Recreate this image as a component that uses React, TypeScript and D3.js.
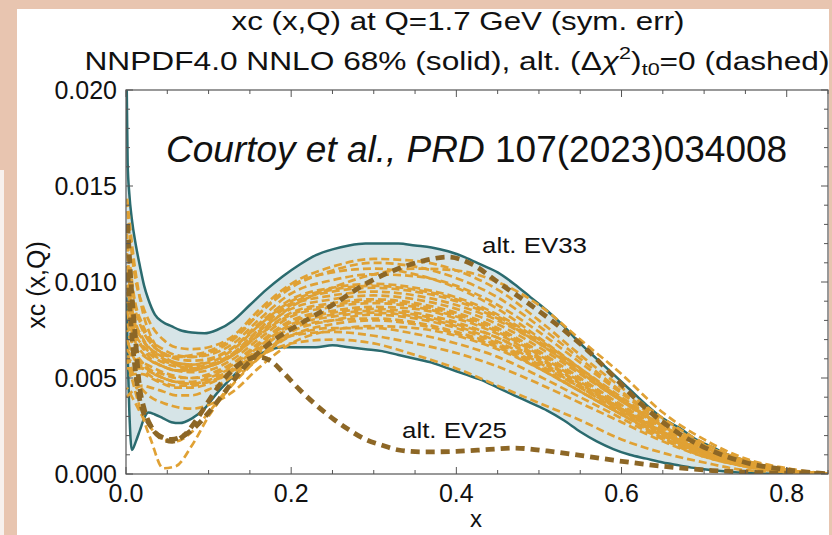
import React from 'react';
import * as d3 from 'd3';

const W = 832;
const H = 535;

// ---------- tick values / labels ----------
const xTickValues = [0, 0.2, 0.4, 0.6, 0.8];
const xTickLabels = ['0.0', '0.2', '0.4', '0.6', '0.8'];
const yTickValues = [0, 0.005, 0.01, 0.015, 0.02];
const yTickLabels = ['0.000', '0.005', '0.010', '0.015', '0.020'];

// ---------- 68% band (solid teal) ----------
const bandX = [0.0005, 0.002, 0.004, 0.007, 0.012, 0.017, 0.022, 0.027, 0.035, 0.045, 0.055, 0.065, 0.08, 0.095, 0.11, 0.13, 0.15, 0.17, 0.19, 0.21, 0.23, 0.25, 0.27, 0.29, 0.31, 0.33, 0.35, 0.37, 0.39, 0.41, 0.43, 0.45, 0.47, 0.49, 0.51, 0.53, 0.55, 0.57, 0.59, 0.61, 0.63, 0.65, 0.67, 0.69, 0.71, 0.73, 0.75, 0.77, 0.8, 0.83, 0.85];
const bandUpper = [215e-4, 162e-4, 146e-4, 133e-4, 119e-4, 108e-4, 98e-4, 91e-4, 83e-4, 79e-4, 77e-4, 75e-4, 73.7e-4, 73.3e-4, 75e-4, 80e-4, 88e-4, 96e-4, 103e-4, 109e-4, 114e-4, 117e-4, 119e-4, 120e-4, 120e-4, 120e-4, 119e-4, 118e-4, 116e-4, 113e-4, 109e-4, 105e-4, 99e-4, 92e-4, 85e-4, 77e-4, 68e-4, 60e-4, 52e-4, 44e-4, 36e-4, 29e-4, 24e-4, 18e-4, 14e-4, 10e-4, 7e-4, 4.5e-4, 2e-4, 0.6e-4, 0];
const bandLower = [92e-4, 62e-4, 33e-4, 12.5e-4, 17e-4, 23e-4, 29e-4, 32e-4, 31e-4, 29e-4, 27e-4, 26.5e-4, 29e-4, 34e-4, 42e-4, 51e-4, 59e-4, 64e-4, 66e-4, 66e-4, 66e-4, 67e-4, 66e-4, 65e-4, 64e-4, 62e-4, 60e-4, 58e-4, 55e-4, 52e-4, 49e-4, 45e-4, 41e-4, 37e-4, 33e-4, 28e-4, 22e-4, 17e-4, 13e-4, 10e-4, 8e-4, 6e-4, 4.5e-4, 3e-4, 2e-4, 1.2e-4, 0.6e-4, 0.3e-4, 0.1e-4, 0, 0];

// ---------- alt. EV33 (dark dashed) ----------
const ev33X = [0.002, 0.006, 0.011, 0.016, 0.022, 0.03, 0.04, 0.055, 0.07, 0.085, 0.1, 0.12, 0.14, 0.16, 0.18, 0.21, 0.25, 0.29, 0.33, 0.36, 0.39, 0.42, 0.45, 0.49, 0.53, 0.56, 0.59, 0.63, 0.67, 0.71, 0.75, 0.8, 0.85];
const ev33Y = [105e-4, 78e-4, 55e-4, 40e-4, 31e-4, 25e-4, 20e-4, 18e-4, 20e-4, 25e-4, 32e-4, 43e-4, 54e-4, 63e-4, 70e-4, 78e-4, 88e-4, 99e-4, 107e-4, 111e-4, 113e-4, 109e-4, 100e-4, 88e-4, 75e-4, 64e-4, 51e-4, 34e-4, 21e-4, 12e-4, 6e-4, 2.2e-4, 0];

// ---------- alt. EV25 (dark dashed) ----------
const ev25X = [0.002, 0.006, 0.011, 0.016, 0.022, 0.03, 0.042, 0.056, 0.07, 0.085, 0.1, 0.12, 0.14, 0.16, 0.175, 0.19, 0.21, 0.23, 0.25, 0.27, 0.29, 0.31, 0.33, 0.36, 0.4, 0.44, 0.47, 0.51, 0.55, 0.59, 0.63, 0.67, 0.71, 0.75, 0.8, 0.85];
const ev25Y = [130e-4, 100e-4, 73e-4, 47e-4, 34e-4, 25e-4, 19e-4, 17e-4, 20e-4, 28e-4, 38e-4, 50e-4, 58e-4, 61e-4, 59e-4, 53e-4, 44e-4, 36e-4, 29e-4, 23e-4, 18e-4, 15e-4, 12.5e-4, 11.5e-4, 11.8e-4, 12.8e-4, 13.5e-4, 12e-4, 9.7e-4, 7.2e-4, 5e-4, 3.2e-4, 1.8e-4, 1e-4, 0.4e-4, 0];

// ---------- alternative (Δχ²)t0=0 members (orange dashed) ----------
const repX = [0.001, 0.01, 0.02, 0.03, 0.045, 0.06, 0.08, 0.1, 0.13, 0.16, 0.2, 0.25, 0.3, 0.35, 0.4, 0.45, 0.5, 0.55, 0.6, 0.65, 0.7, 0.75, 0.8, 0.85];
const rep01 = [85e-4, 72e-4, 66e-4, 62e-4, 58e-4, 56e-4, 55e-4, 56e-4, 62e-4, 72e-4, 84e-4, 89e-4, 91e-4, 89e-4, 84e-4, 76e-4, 64e-4, 50e-4, 36e-4, 23e-4, 13e-4, 6e-4, 2e-4, 0];
const rep02 = [95e-4, 75e-4, 67e-4, 63e-4, 59e-4, 57e-4, 56e-4, 57e-4, 63e-4, 74e-4, 86e-4, 91e-4, 93e-4, 91e-4, 86e-4, 78e-4, 66e-4, 52e-4, 38e-4, 24e-4, 13e-4, 6e-4, 2e-4, 0];
const rep03 = [75e-4, 66e-4, 62e-4, 59e-4, 56e-4, 54e-4, 53e-4, 54e-4, 60e-4, 70e-4, 82e-4, 87e-4, 89e-4, 87e-4, 82e-4, 74e-4, 62e-4, 48e-4, 34e-4, 22e-4, 12e-4, 5e-4, 2e-4, 0];
const rep04 = [110e-4, 82e-4, 71e-4, 65e-4, 61e-4, 58e-4, 57e-4, 58e-4, 65e-4, 77e-4, 90e-4, 96e-4, 98e-4, 96e-4, 91e-4, 82e-4, 69e-4, 54e-4, 39e-4, 25e-4, 14e-4, 6e-4, 2e-4, 0];
const rep05 = [65e-4, 60e-4, 58e-4, 56e-4, 53e-4, 51e-4, 50e-4, 52e-4, 58e-4, 68e-4, 80e-4, 85e-4, 87e-4, 86e-4, 81e-4, 73e-4, 61e-4, 47e-4, 33e-4, 21e-4, 11e-4, 5e-4, 1e-4, 0];
const rep06 = [125e-4, 92e-4, 78e-4, 70e-4, 65e-4, 62e-4, 61e-4, 62e-4, 68e-4, 80e-4, 94e-4, 101e-4, 104e-4, 103e-4, 98e-4, 88e-4, 74e-4, 58e-4, 42e-4, 27e-4, 15e-4, 7e-4, 2e-4, 0];
const rep07 = [140e-4, 105e-4, 88e-4, 78e-4, 70e-4, 66e-4, 65e-4, 66e-4, 72e-4, 85e-4, 99e-4, 108e-4, 112e-4, 111e-4, 106e-4, 96e-4, 80e-4, 62e-4, 45e-4, 29e-4, 16e-4, 7e-4, 2e-4, 0];
const rep08 = [50e-4, 52e-4, 52e-4, 50e-4, 47e-4, 45e-4, 45e-4, 47e-4, 54e-4, 64e-4, 76e-4, 80e-4, 81e-4, 79e-4, 74e-4, 67e-4, 56e-4, 43e-4, 31e-4, 19e-4, 10e-4, 4e-4, 1e-4, 0];
const rep09 = [40e-4, 44e-4, 46e-4, 45e-4, 43e-4, 41e-4, 41e-4, 44e-4, 51e-4, 61e-4, 72e-4, 76e-4, 76e-4, 73e-4, 68e-4, 61e-4, 51e-4, 40e-4, 29e-4, 18e-4, 9e-4, 4e-4, 1e-4, 0];
const rep10 = [60e-4, 45e-4, 30e-4, 18e-4, 3e-4, 4e-4, 15e-4, 30e-4, 47e-4, 60e-4, 74e-4, 80e-4, 83e-4, 81e-4, 76e-4, 68e-4, 57e-4, 45e-4, 33e-4, 21e-4, 11e-4, 5e-4, 1e-4, 0];
const rep11 = [45e-4, 38e-4, 30e-4, 24e-4, 18e-4, 17e-4, 22e-4, 32e-4, 48e-4, 60e-4, 72e-4, 78e-4, 80e-4, 78e-4, 73e-4, 66e-4, 55e-4, 43e-4, 31e-4, 19e-4, 10e-4, 4e-4, 1e-4, 0];
const rep12 = [145e-4, 110e-4, 85e-4, 72e-4, 62e-4, 57e-4, 55e-4, 56e-4, 62e-4, 72e-4, 83e-4, 88e-4, 90e-4, 88e-4, 83e-4, 75e-4, 63e-4, 49e-4, 35e-4, 22e-4, 12e-4, 5e-4, 2e-4, 0];
const rep13 = [105e-4, 80e-4, 70e-4, 64e-4, 60e-4, 58e-4, 57e-4, 59e-4, 66e-4, 78e-4, 91e-4, 97e-4, 99e-4, 97e-4, 92e-4, 83e-4, 70e-4, 55e-4, 40e-4, 26e-4, 14e-4, 6e-4, 2e-4, 0];
const rep14 = [70e-4, 62e-4, 57e-4, 53e-4, 50e-4, 48e-4, 48e-4, 50e-4, 56e-4, 66e-4, 78e-4, 83e-4, 85e-4, 83e-4, 78e-4, 71e-4, 60e-4, 47e-4, 34e-4, 22e-4, 12e-4, 5e-4, 1e-4, 0];
const rep15 = [90e-4, 78e-4, 70e-4, 65e-4, 62e-4, 61e-4, 62e-4, 64e-4, 71e-4, 83e-4, 97e-4, 106e-4, 110e-4, 108e-4, 102e-4, 92e-4, 77e-4, 60e-4, 43e-4, 28e-4, 15e-4, 7e-4, 2e-4, 0];
const rep16 = [80e-4, 65e-4, 58e-4, 54e-4, 50e-4, 48e-4, 47e-4, 48e-4, 53e-4, 61e-4, 68e-4, 70e-4, 68e-4, 62e-4, 55e-4, 46e-4, 37e-4, 28e-4, 18e-4, 11e-4, 6e-4, 2e-4, 1e-4, 0];
const rep17 = [115e-4, 88e-4, 75e-4, 68e-4, 63e-4, 60e-4, 59e-4, 60e-4, 66e-4, 77e-4, 89e-4, 95e-4, 97e-4, 95e-4, 90e-4, 81e-4, 68e-4, 53e-4, 38e-4, 25e-4, 14e-4, 6e-4, 2e-4, 0];
const rep18 = [55e-4, 55e-4, 55e-4, 53e-4, 50e-4, 48e-4, 47e-4, 49e-4, 55e-4, 65e-4, 77e-4, 82e-4, 84e-4, 82e-4, 77e-4, 69e-4, 58e-4, 45e-4, 32e-4, 20e-4, 11e-4, 5e-4, 1e-4, 0];
const rep19 = [85e-4, 70e-4, 63e-4, 59e-4, 56e-4, 54e-4, 54e-4, 56e-4, 62e-4, 73e-4, 87e-4, 97e-4, 104e-4, 107e-4, 106e-4, 100e-4, 88e-4, 70e-4, 52e-4, 32e-4, 18e-4, 8e-4, 3e-4, 0];
const rep20 = [100e-4, 76e-4, 66e-4, 60e-4, 56e-4, 54e-4, 54e-4, 56e-4, 63e-4, 75e-4, 88e-4, 93e-4, 95e-4, 93e-4, 88e-4, 80e-4, 68e-4, 53e-4, 38e-4, 24e-4, 13e-4, 6e-4, 2e-4, 0];
const rep21 = [120e-4, 90e-4, 76e-4, 68e-4, 63e-4, 61e-4, 61e-4, 63e-4, 70e-4, 83e-4, 98e-4, 105e-4, 107e-4, 104e-4, 97e-4, 86e-4, 71e-4, 55e-4, 39e-4, 25e-4, 14e-4, 6e-4, 2e-4, 0];
const rep22 = [60e-4, 58e-4, 56e-4, 54e-4, 52e-4, 50e-4, 50e-4, 51e-4, 57e-4, 67e-4, 79e-4, 84e-4, 86e-4, 84e-4, 79e-4, 71e-4, 59e-4, 46e-4, 33e-4, 21e-4, 11e-4, 5e-4, 1e-4, 0];
const rep23 = [65e-4, 50e-4, 44e-4, 40e-4, 37e-4, 35e-4, 34e-4, 36e-4, 43e-4, 55e-4, 68e-4, 75e-4, 77e-4, 76e-4, 72e-4, 65e-4, 55e-4, 43e-4, 31e-4, 20e-4, 10e-4, 4e-4, 1e-4, 0];
const rep24 = [70e-4, 60e-4, 55e-4, 51e-4, 48e-4, 46e-4, 46e-4, 48e-4, 54e-4, 63e-4, 72e-4, 74e-4, 72e-4, 68e-4, 63e-4, 56e-4, 47e-4, 37e-4, 27e-4, 17e-4, 9e-4, 4e-4, 1e-4, 0];
const replicas = [rep01, rep02, rep03, rep04, rep05, rep06, rep07, rep08, rep09, rep10, rep11, rep12, rep13, rep14, rep15, rep16, rep17, rep18, rep19, rep20, rep21, rep22, rep23, rep24];

// ---------- styling ----------
const FONT = '"Liberation Sans", Arial, Helvetica, sans-serif';
const PINK = '#e8c5b0';
const TEAL = '#2b6b6f';
const FILL = '#d6e4e7';
const ORANGE = '#e0a134';
const DARK = '#8d6726';

const M = { left: 126, right: 828, top: 90, bottom: 474 };

export default function App() {
  const xs = d3.scaleLinear().domain([0, 0.85]).range([M.left, M.right]);
  const ys = d3.scaleLinear().domain([0, 0.02]).range([M.bottom, M.top]);

  const line = d3
    .line<[number, number]>()
    .x((d) => xs(d[0]))
    .y((d) => ys(d[1]))
    .curve(d3.curveMonotoneX);

  const area = d3
    .area<number>()
    .x((_, i) => xs(bandX[i]))
    .y0((_, i) => ys(bandLower[i]))
    .y1((_, i) => ys(bandUpper[i]))
    .curve(d3.curveMonotoneX);

  const pairs = (xa: number[], ya: number[]) => xa.map((x, i) => [x, ya[i]] as [number, number]);

  const xMinor = d3.range(0, 0.851, 0.05);
  const yMinor = d3.range(0, 0.02001, 0.001);
  const isMajorX = (v: number) => Math.abs(v / 0.2 - Math.round(v / 0.2)) < 1e-6;
  const isMajorY = (v: number) => Math.abs(v / 0.005 - Math.round(v / 0.005)) < 1e-6;

  const axisColor = '#555';

  return (
    <div style={{ position: 'fixed', left: 0, top: 0 }}>
      <svg width={W} height={H} style={{ display: 'block' }} fontFamily={FONT}>
        <defs>
          <clipPath id="plotclip">
            <rect x={M.left} y={M.top} width={M.right - M.left} height={M.bottom - M.top} />
          </clipPath>
        </defs>
        <rect x={0} y={0} width={W} height={H} fill={PINK} />
        <rect x={17} y={9} width={812} height={H - 9} fill="#ffffff" />
        <rect x={0} y={170} width={4} height={H - 170} fill="#f7f1ee" />

        {/* titles */}
        <text x={458} y={30} fontSize={25} textAnchor="middle" textLength={453} lengthAdjust="spacingAndGlyphs" fill="#111">
          xc (x,Q) at Q=1.7 GeV (sym. err)
        </text>
        <text x={457} y={70} fontSize={25} textAnchor="middle" textLength={745} lengthAdjust="spacingAndGlyphs" fill="#111">
          NNPDF4.0 NNLO 68% (solid), alt. (Δ
          <tspan fontStyle="italic">χ</tspan>
          <tspan dy={-11} fontSize={17}>2</tspan>
          <tspan dy={11}>)</tspan>
          <tspan dy={5} fontSize={17}>t0</tspan>
          <tspan dy={-5}>=0 (dashed)</tspan>
        </text>

        {/* plot contents */}
        <g clipPath="url(#plotclip)">
          <path d={area(bandX) || ''} fill={FILL} stroke="none" />
          <path d={line(pairs(bandX, bandUpper)) || ''} fill="none" stroke={TEAL} strokeWidth={2.5} />
          <path d={line(pairs(bandX, bandLower)) || ''} fill="none" stroke={TEAL} strokeWidth={2.5} />
          {replicas.map((r, i) => (
            <path
              key={i}
              d={line(pairs(repX, r)) || ''}
              fill="none"
              stroke={ORANGE}
              strokeWidth={2.7}
              strokeDasharray="8,4"
              strokeDashoffset={(i * 3) % 12}
            />
          ))}
          <path d={line(pairs(ev33X, ev33Y)) || ''} fill="none" stroke={DARK} strokeWidth={4.8} strokeDasharray="9,6" />
          <path d={line(pairs(ev25X, ev25Y)) || ''} fill="none" stroke={DARK} strokeWidth={4.8} strokeDasharray="9,6" />
        </g>

        {/* frame */}
        <rect x={M.left} y={M.top} width={M.right - M.left} height={M.bottom - M.top} fill="none" stroke={axisColor} strokeWidth={1.2} />

        {/* x ticks (bottom & top, inward) */}
        {xMinor.map((v, i) => {
          const len = isMajorX(v) ? 7 : 4;
          const x = xs(v);
          return (
            <g key={'xt' + i} stroke={axisColor} strokeWidth={1}>
              <line x1={x} x2={x} y1={M.bottom} y2={M.bottom - len} />
              <line x1={x} x2={x} y1={M.top} y2={M.top + len} />
            </g>
          );
        })}
        {/* y ticks (left & right, inward) */}
        {yMinor.map((v, i) => {
          const len = isMajorY(v) ? 7 : 4;
          const y = ys(v);
          return (
            <g key={'yt' + i} stroke={axisColor} strokeWidth={1}>
              <line x1={M.left} x2={M.left + len} y1={y} y2={y} />
              <line x1={M.right} x2={M.right - len} y1={y} y2={y} />
            </g>
          );
        })}

        {/* tick labels */}
        {xTickValues.map((v, i) => (
          <text key={'xl' + i} x={xs(v)} y={502} fontSize={25} textAnchor="middle" fill="#111">
            {xTickLabels[i]}
          </text>
        ))}
        {yTickValues.map((v, i) => (
          <text key={'yl' + i} x={117} y={ys(v) + 9} fontSize={25} textAnchor="end" fill="#111">
            {yTickLabels[i]}
          </text>
        ))}

        {/* axis labels */}
        <text x={476} y={527} fontSize={24} textAnchor="middle" fill="#111">
          x
        </text>
        <text transform="translate(45,285) rotate(-90)" fontSize={25} textAnchor="middle" fill="#111">
          xc (x,Q)
        </text>

        {/* annotations */}
        <text x={166} y={162} fontSize={37} fill="#111">
          <tspan fontStyle="italic">Courtoy et al., PRD</tspan> 107(2023)034008
        </text>
        <text x={482} y={253} fontSize={22} textLength={105} lengthAdjust="spacingAndGlyphs" fill="#111">
          alt. EV33
        </text>
        <text x={402} y={438} fontSize={22} textLength={105} lengthAdjust="spacingAndGlyphs" fill="#111">
          alt. EV25
        </text>
      </svg>
    </div>
  );
}
